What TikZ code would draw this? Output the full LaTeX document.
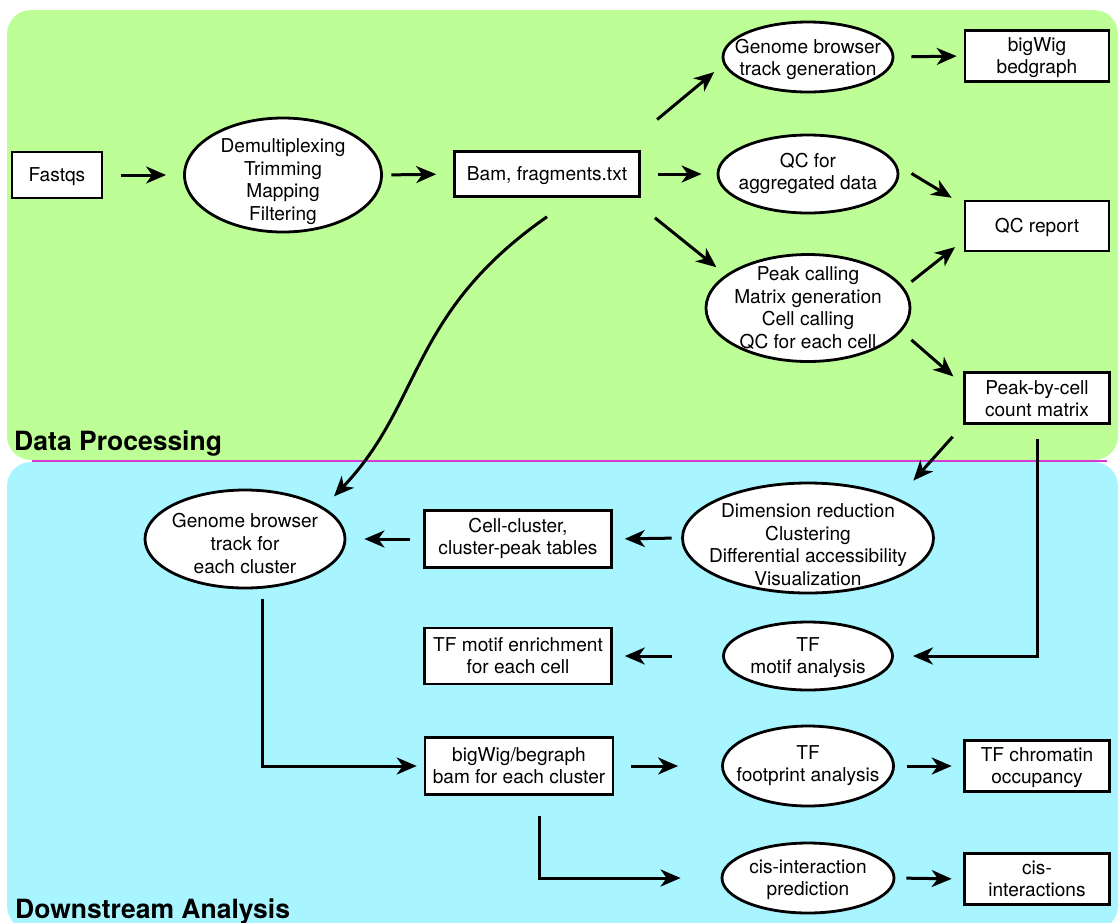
\documentclass[tikz,border=0pt]{standalone}
\usepackage{fontspec}
\setmainfont{TeX Gyre Heros}
\usetikzlibrary{shapes.geometric,arrows.meta}
\definecolor{panelgreen}{RGB}{189,255,150}
\definecolor{panelblue}{RGB}{168,244,255}
\definecolor{divider}{RGB}{214,58,214}
\newcommand{\ct}[2][2pt]{\raisebox{-#1}[0pt][0pt]{\vbox to 0pt{\vss\hbox to 0pt{\hss\begin{tabular}{@{}c@{}}#2\end{tabular}\hss}\vss}}}
\newcommand{\nodefont}{\fontsize{19.1}{22.6}\selectfont}
\newcommand{\titlefont}{\fontsize{26.5}{30}\selectfont\bfseries}
\begin{document}
\begin{tikzpicture}[x=1pt,y=-1pt,
  bx/.style={rectangle, draw=black, fill=white, line width=2.6pt, inner sep=0pt, font=\nodefont},
  el/.style={ellipse, draw=black, fill=white, line width=2.8pt, inner sep=0pt, font=\nodefont},
  arr/.style={-{Stealth[length=20pt,width=17pt,inset=6pt]}, line width=3pt},
  paneltitle/.style={anchor=base west, inner sep=0pt, font=\titlefont}]
\useasboundingbox (0,0) rectangle (1119,922);
% panels
\fill[panelgreen, rounded corners=24pt] (7,10) rectangle (1118,460);
\fill[panelblue, rounded corners=24pt] (7,462) rectangle (1118,930);
\draw[divider, line width=1.5pt] (32,461) -- (1107,461);
\node[paneltitle] (dp) at (14,450) {Data Processing};
\node[paneltitle] (da) at (15,918) {Downstream Analysis};
% nodes
\node[bx, minimum width=90pt, minimum height=46pt] (fastq) at (57,175) {\ct{Fastqs}};
\node[el, minimum width=197pt, minimum height=114pt] (demux) at (283,175) {\ct[7pt]{Demultiplexing\\Trimming\\Mapping\\Filtering}};
\node[bx, minimum width=185pt, minimum height=45pt] (bam) at (547,174) {\ct{Bam, fragments.txt}};
\node[el, minimum width=170pt, minimum height=70pt] (gb) at (808,57) {\ct[3pt]{Genome browser\\track generation}};
\node[bx, minimum width=144pt, minimum height=51pt] (bigwig) at (1037,56) {\ct{bigWig\\bedgraph}};
\node[el, minimum width=180pt, minimum height=78pt] (qcagg) at (808,174) {\ct[0pt]{QC for\\aggregated data}};
\node[bx, minimum width=144pt, minimum height=50pt] (qcreport) at (1037,226) {\ct{QC report}};
\node[el, minimum width=204pt, minimum height=107pt] (peak) at (808,308) {\ct{Peak calling\\Matrix generation\\Cell calling\\QC for each cell}};
\node[bx, minimum width=145pt, minimum height=51pt] (peakcell) at (1037,398) {\ct[3pt]{Peak-by-cell\\count matrix}};
\node[el, minimum width=251pt, minimum height=110pt] (dimred) at (808,538) {\ct[9pt]{Dimension reduction\\Clustering\\Differential accessibility\\Visualization}};
\node[el, minimum width=169pt, minimum height=68pt] (tfmotif) at (808,656) {\ct{TF\\motif analysis}};
\node[bx, minimum width=187pt, minimum height=57pt] (cc) at (518,539) {\ct[0pt]{Cell-cluster,\\cluster-peak tables}};
\node[bx, minimum width=187pt, minimum height=56pt] (tfe) at (518,656) {\ct{TF motif enrichment\\for each cell}};
\node[el, minimum width=200pt, minimum height=98pt] (gbc) at (245,539) {\ct[7pt]{Genome browser\\track for\\each cluster}};
\node[bx, minimum width=188pt, minimum height=57pt] (bw2) at (519,766) {\ct{bigWig/begraph\\bam for each cluster}};
\node[el, minimum width=171pt, minimum height=80pt] (fp) at (808,766) {\ct[0pt]{TF\\footprint analysis}};
\node[bx, minimum width=145pt, minimum height=51pt] (tfchrom) at (1037,766) {\ct{TF chromatin\\occupancy}};
\node[el, minimum width=172pt, minimum height=70pt] (cis) at (808,878) {\ct{cis-interaction\\prediction}};
\node[bx, minimum width=145pt, minimum height=51pt] (cisint) at (1037,879) {\ct{cis-\\interactions}};
% connectors
\draw[arr, shorten <=18pt, shorten >=17pt] (fastq.east) -- (demux.west);
\draw[arr, shorten <=8.5pt, shorten >=17pt] (demux.east) -- (bam.west);
\draw[arr, shorten <=48pt, shorten >=12pt] (bam.18) -- (gb.185);
\draw[arr, shorten <=17pt, shorten >=15pt] (bam.east) -- (qcagg.west);
\draw[arr, shorten <=32pt, shorten >=12pt] (bam.-16) -- (peak.158);
\draw[arr, shorten <=17pt, shorten >=7pt] (gb.east) -- (bigwig.west);
\draw[arr, shorten <=17pt, shorten >=14pt] (qcagg.6) -- (qcreport.164);
\draw[arr, shorten <=9.5pt, shorten >=11pt] (peak.12) -- (qcreport.191);
\draw[arr, shorten <=13pt, shorten >=13pt] (peak.-14) -- (peakcell.170);
\draw[arr, shorten <=16pt, shorten >=23.5pt] (peakcell.200) -- (dimred.24);
\draw[arr, shorten <=14pt, shorten >=19pt] (peakcell.south) |- (tfmotif.east);
\draw[arr, shorten <=9.5pt, shorten >=12pt] (dimred.west) -- (cc.east);
\draw[arr, shorten <=50pt, shorten >=12pt] (tfmotif.west) -- (tfe.east);
\draw[arr, shorten <=13pt, shorten >=18pt] (cc.west) -- (gbc.east);
\draw[arr, shorten >=15pt] ([yshift=-19pt]bam.south) .. controls (409,313) and (423,403) .. (gbc.22);
\draw[arr, shorten <=10pt, shorten >=7pt] (gbc.-71) |- (bw2.west);
\draw[arr, shorten <=17pt, shorten >=43pt] (bw2.east) -- (fp.west);
\draw[arr, shorten <=20.5pt, shorten >=40pt] (bw2.-56) |- (cis.west);
\draw[arr, shorten <=12pt, shorten >=11.5pt] (fp.east) -- (tfchrom.west);
\draw[arr, shorten <=11pt, shorten >=11.5pt] (cis.east) -- (cisint.west);
\end{tikzpicture}
\end{document}
